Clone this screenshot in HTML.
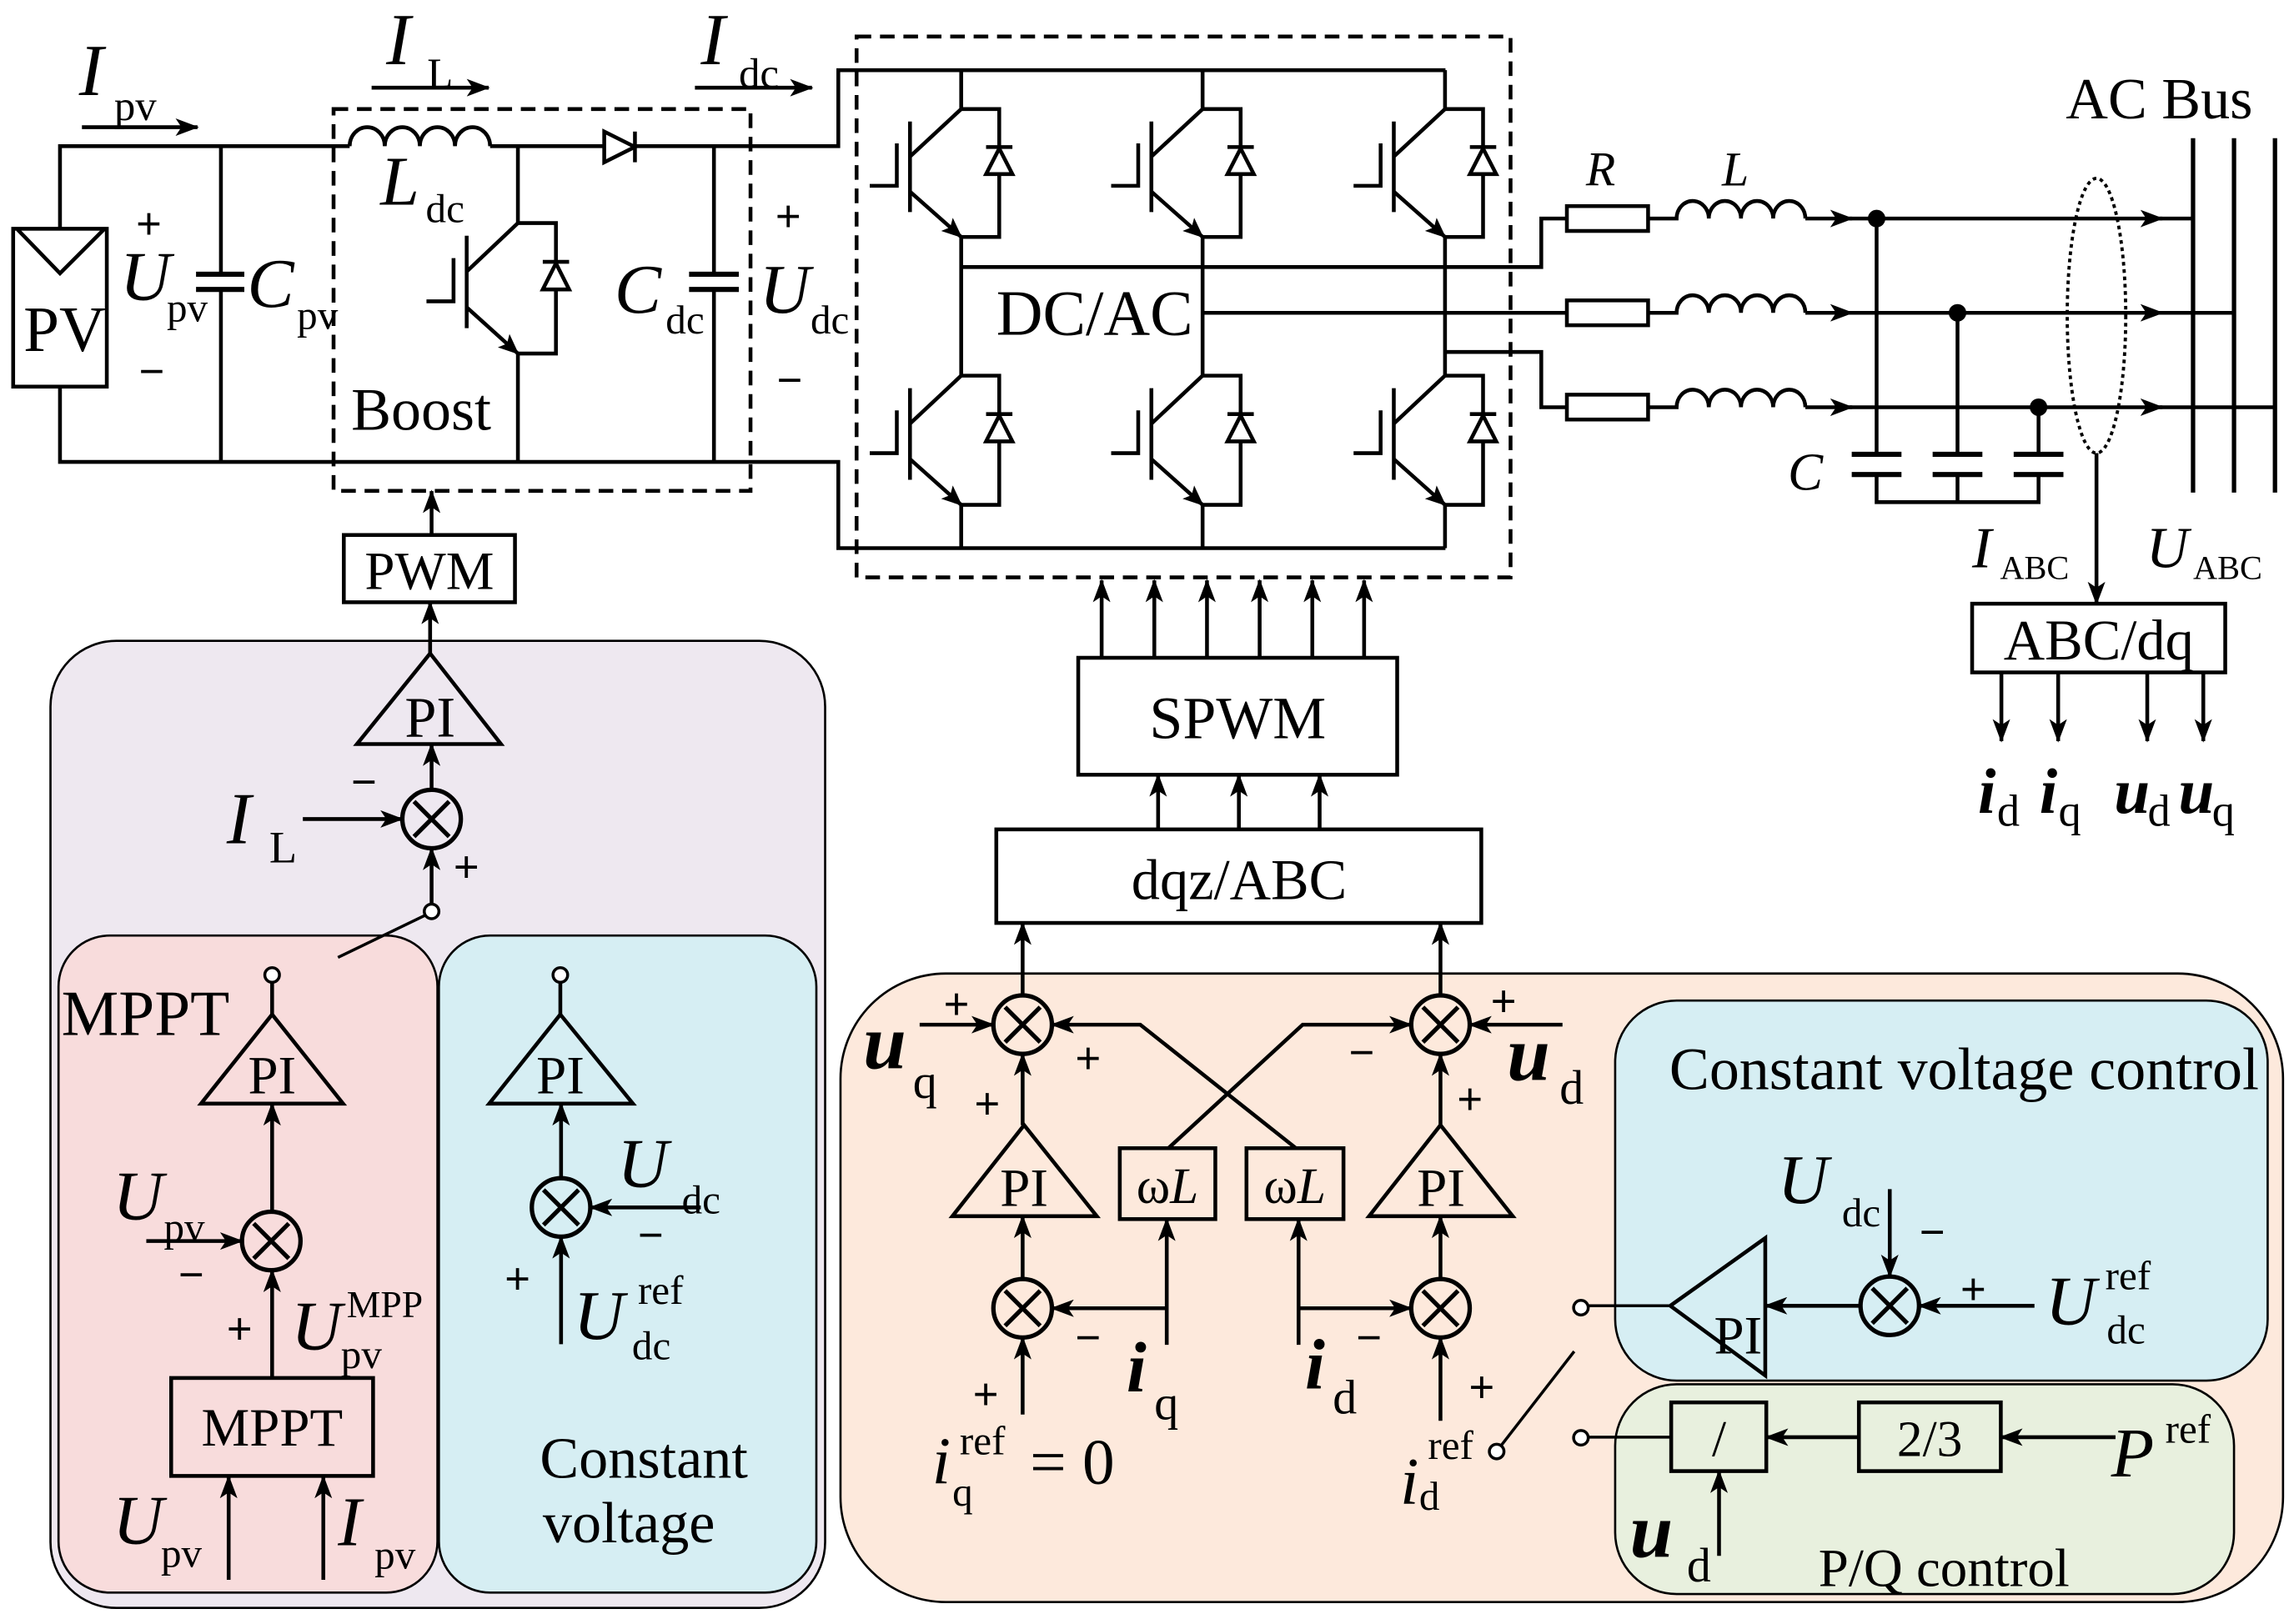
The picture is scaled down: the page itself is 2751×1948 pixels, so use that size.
<!DOCTYPE html>
<html><head><meta charset="utf-8"><style>
html,body{margin:0;padding:0;background:#fff;}
svg{display:block;}
text{font-family:"Liberation Serif",serif;fill:#000;}
.i{font-style:italic;}
.bi{font-style:italic;font-weight:bold;}
.s{font-family:"Liberation Sans",sans-serif;font-size:30px;}
</style></head><body>
<svg width="2751" height="1948" viewBox="0 0 1568 1111" preserveAspectRatio="none" xmlns="http://www.w3.org/2000/svg">
<defs>
<marker id="a" markerUnits="userSpaceOnUse" markerWidth="16" markerHeight="12" refX="15" refY="6" orient="auto"><path d="M0,0 L16,6 L0,12 L4,6z" fill="#000"/></marker>
<marker id="e" markerUnits="userSpaceOnUse" markerWidth="14" markerHeight="12" refX="13" refY="6" orient="auto"><path d="M0,0 L14,6 L0,12 L3,6z" fill="#000"/></marker>
<g id="igbt" fill="none" stroke="#000" stroke-width="2.6">
<line x1="-35" y1="8.5" x2="-35" y2="70.5"/>
<line x1="0" y1="0" x2="-35" y2="32.5"/>
<line x1="-35" y1="56.5" x2="0" y2="87.5" marker-end="url(#e)"/>
<polyline points="-62.5,52.5 -44,52.5 -44,23.5"/>
<polyline points="0,0 26,0 26,87.5 0,87.5"/>
<line x1="17" y1="26" x2="35" y2="26"/>
<polygon points="17,44.5 35,44.5 26,27" fill="#fff"/>
</g>
<g id="sum" fill="none" stroke="#000" stroke-width="3">
<circle r="20" cx="0" cy="0"/>
<line x1="-12" y1="-12" x2="12" y2="12"/><line x1="-12" y1="12" x2="12" y2="-12"/>
</g>
</defs>

<rect x="34.5" y="438.4" width="529.5" height="661.6" rx="45" fill="#eee8f0" stroke="#000" stroke-width="1.5"/>
<rect x="40" y="640" width="259" height="449.5" rx="35" fill="#f8dcdc" stroke="#000" stroke-width="1.5"/>
<rect x="300" y="640" width="258" height="449.5" rx="35" fill="#d6eef3" stroke="#000" stroke-width="1.5"/>
<rect x="574.5" y="666" width="986" height="430" rx="72" fill="#fde9dc" stroke="#000" stroke-width="1.5"/>
<rect x="1104" y="684.5" width="446" height="260" rx="42" fill="#d6eef3" stroke="#000" stroke-width="1.5"/>
<rect x="1104" y="947" width="423" height="143.5" rx="42" fill="#e8f0de" stroke="#000" stroke-width="1.5"/>

<g fill="none" stroke="#000" stroke-width="2.6">
<rect x="9" y="156.5" width="64" height="108"/>
<polyline points="12,157 41,187 71,157"/>
<polyline points="41,156.5 41,100 239,100"/>
<path d="M239,100 a12,13 0 0 1 24,0 a12,13 0 0 1 24,0 a12,13 0 0 1 24,0 a12,13 0 0 1 24,0"/>
<polyline points="335,100 573,100 573,48 988,48"/>
<polygon points="413,90 413,111 434,100.5" fill="#fff"/>
<line x1="434" y1="90" x2="434" y2="111"/>
<polyline points="41,264 41,316 573,316 573,375 988,375"/>
<line x1="151" y1="100" x2="151" y2="187.6"/><line x1="151" y1="198" x2="151" y2="316"/>
<line x1="134" y1="187.6" x2="167" y2="187.6" stroke-width="3.5"/><line x1="134" y1="198" x2="167" y2="198" stroke-width="3.5"/>
<line x1="488" y1="100" x2="488" y2="187.6"/><line x1="488" y1="198" x2="488" y2="316"/>
<line x1="471" y1="187.6" x2="505" y2="187.6" stroke-width="3.5"/><line x1="471" y1="198" x2="505" y2="198" stroke-width="3.5"/>
<line x1="354" y1="100" x2="354" y2="152.6"/>
<line x1="354" y1="242" x2="354" y2="316"/>
<rect x="228" y="74.6" width="285" height="261.2" stroke-dasharray="10 6"/>
<rect x="585.5" y="25" width="447" height="370" stroke-dasharray="10 6"/>
<line x1="657" y1="48" x2="657" y2="74.6"/><line x1="822" y1="48" x2="822" y2="74.6"/><line x1="987.7" y1="48" x2="987.7" y2="74.6"/>
<line x1="657" y1="162" x2="657" y2="257"/><line x1="822" y1="162" x2="822" y2="257"/><line x1="987.7" y1="162" x2="987.7" y2="257"/>
<line x1="657" y1="345.5" x2="657" y2="375"/><line x1="822" y1="345.5" x2="822" y2="375"/><line x1="987.7" y1="345.5" x2="987.7" y2="375"/>
<polyline points="657,182.7 1053.5,182.7 1053.5,149.5 1071,149.5"/>
<polyline points="822,214 1071,214"/>
<polyline points="987.7,240.8 1053.5,240.8 1053.5,278.6 1071,278.6"/>
<rect x="1071" y="141" width="55.5" height="17"/>
<rect x="1071" y="205.5" width="55.5" height="17"/>
<rect x="1071" y="270" width="55.5" height="17"/>
<path d="M1126.5,149.5 H1146 a11,12 0 0 1 22,0 a11,12 0 0 1 22,0 a11,12 0 0 1 22,0 a11,12 0 0 1 22,0"/>
<path d="M1126.5,214 H1146 a11,12 0 0 1 22,0 a11,12 0 0 1 22,0 a11,12 0 0 1 22,0 a11,12 0 0 1 22,0"/>
<path d="M1126.5,278.6 H1146 a11,12 0 0 1 22,0 a11,12 0 0 1 22,0 a11,12 0 0 1 22,0 a11,12 0 0 1 22,0"/>
<line x1="1234" y1="149.5" x2="1266" y2="149.5" marker-end="url(#a)"/>
<line x1="1234" y1="214" x2="1266" y2="214" marker-end="url(#a)"/>
<line x1="1234" y1="278.6" x2="1266" y2="278.6" marker-end="url(#a)"/>
<line x1="1264" y1="149.5" x2="1478" y2="149.5" marker-end="url(#a)"/><line x1="1476" y1="149.5" x2="1499" y2="149.5"/>
<line x1="1264" y1="214" x2="1478" y2="214" marker-end="url(#a)"/><line x1="1476" y1="214" x2="1527" y2="214"/>
<line x1="1264" y1="278.6" x2="1478" y2="278.6" marker-end="url(#a)"/><line x1="1476" y1="278.6" x2="1555" y2="278.6"/>
<line x1="1499" y1="94.5" x2="1499" y2="337" stroke-width="3"/>
<line x1="1527" y1="94.5" x2="1527" y2="337" stroke-width="3"/>
<line x1="1555" y1="94.5" x2="1555" y2="337" stroke-width="3"/>
<line x1="1282.7" y1="149.5" x2="1282.7" y2="310.8"/><line x1="1338" y1="214" x2="1338" y2="310.8"/><line x1="1393.4" y1="278.6" x2="1393.4" y2="310.8"/>
<line x1="1265.7" y1="310.8" x2="1299.7" y2="310.8" stroke-width="3.5"/><line x1="1265.7" y1="324.6" x2="1299.7" y2="324.6" stroke-width="3.5"/>
<line x1="1321" y1="310.8" x2="1355" y2="310.8" stroke-width="3.5"/><line x1="1321" y1="324.6" x2="1355" y2="324.6" stroke-width="3.5"/>
<line x1="1376.4" y1="310.8" x2="1410.4" y2="310.8" stroke-width="3.5"/><line x1="1376.4" y1="324.6" x2="1410.4" y2="324.6" stroke-width="3.5"/>
<polyline points="1282.7,324.6 1282.7,343.5 1393.4,343.5 1393.4,324.6"/>
<line x1="1338" y1="324.6" x2="1338" y2="343.5"/>
<ellipse cx="1433" cy="216" rx="20" ry="94" stroke-width="2.2" stroke-dasharray="2.5 2.5"/>
<line x1="1433" y1="310" x2="1433" y2="413" marker-end="url(#a)"/>
<rect x="1348" y="413" width="173" height="47"/>
<line x1="1368" y1="460" x2="1368" y2="507" marker-end="url(#a)"/>
<line x1="1406.8" y1="460" x2="1406.8" y2="507" marker-end="url(#a)"/>
<line x1="1467.7" y1="460" x2="1467.7" y2="507" marker-end="url(#a)"/>
<line x1="1506" y1="460" x2="1506" y2="507" marker-end="url(#a)"/>
<line x1="56" y1="87" x2="135" y2="87" marker-end="url(#a)"/>
<line x1="254" y1="60" x2="334" y2="60" marker-end="url(#a)"/>
<line x1="475" y1="60" x2="555" y2="60" marker-end="url(#a)"/>
<rect x="235" y="366" width="117" height="46"/>
<line x1="295" y1="366" x2="295" y2="336" marker-end="url(#a)"/>
<line x1="294" y1="447" x2="294" y2="412" marker-end="url(#a)"/>
<rect x="737" y="450" width="218" height="80"/>
<line x1="753" y1="450" x2="753" y2="397" marker-end="url(#a)"/>
<line x1="789" y1="450" x2="789" y2="397" marker-end="url(#a)"/>
<line x1="825" y1="450" x2="825" y2="397" marker-end="url(#a)"/>
<line x1="861" y1="450" x2="861" y2="397" marker-end="url(#a)"/>
<line x1="897" y1="450" x2="897" y2="397" marker-end="url(#a)"/>
<line x1="932.4" y1="450" x2="932.4" y2="397" marker-end="url(#a)"/>
<rect x="681" y="567.4" width="331.5" height="64"/>
<line x1="791.6" y1="567.4" x2="791.6" y2="530" marker-end="url(#a)"/>
<line x1="846.8" y1="567.4" x2="846.8" y2="530" marker-end="url(#a)"/>
<line x1="902" y1="567.4" x2="902" y2="530" marker-end="url(#a)"/>

<polygon points="294,447 244,509 342.4,509"/>
<line x1="295" y1="540" x2="295" y2="509" marker-end="url(#a)"/>
<line x1="207" y1="560.3" x2="275" y2="560.3" marker-end="url(#a)"/>
<line x1="295" y1="619" x2="295" y2="580.3" marker-end="url(#a)"/>
<circle cx="295" cy="623.5" r="5" fill="#fff" stroke-width="2"/>
<line x1="291" y1="626" x2="231" y2="655" stroke-width="2"/>
<circle cx="186" cy="667" r="5" fill="#fff" stroke-width="2"/>
<line x1="186" y1="672" x2="186" y2="694"/>
<polygon points="186,694 137.4,755 234.5,755"/>
<line x1="186" y1="829" x2="186" y2="755" marker-end="url(#a)"/>
<line x1="100" y1="849" x2="165.4" y2="849" marker-end="url(#a)"/>
<line x1="186" y1="942.7" x2="186" y2="869" marker-end="url(#a)"/>
<rect x="117" y="942.7" width="138" height="67"/>
<line x1="156.3" y1="1080.8" x2="156.3" y2="1010" marker-end="url(#a)"/>
<line x1="221" y1="1080.8" x2="221" y2="1010" marker-end="url(#a)"/>
<circle cx="383" cy="667" r="5" fill="#fff" stroke-width="2"/>
<line x1="383" y1="672" x2="383" y2="694"/>
<polygon points="383,694 334.4,755 432.6,755"/>
<line x1="383.5" y1="806" x2="383.5" y2="755" marker-end="url(#a)"/>
<line x1="479" y1="826" x2="403.5" y2="826" marker-end="url(#a)"/>
<line x1="383.5" y1="919.6" x2="383.5" y2="846" marker-end="url(#a)"/>

<line x1="699" y1="681" x2="699" y2="631.4" marker-end="url(#a)"/>
<line x1="984.6" y1="681" x2="984.6" y2="631.4" marker-end="url(#a)"/>
<line x1="699" y1="769.7" x2="699" y2="721" marker-end="url(#a)"/>
<line x1="984.6" y1="769.7" x2="984.6" y2="721" marker-end="url(#a)"/>
<polygon points="700,769.7 651,832 749.7,832"/>
<polygon points="984.6,769.7 935.8,832 1034,832"/>
<line x1="699" y1="875" x2="699" y2="832" marker-end="url(#a)"/>
<line x1="984.6" y1="875" x2="984.6" y2="832" marker-end="url(#a)"/>
<line x1="699" y1="967.7" x2="699" y2="915" marker-end="url(#a)"/>
<line x1="984.6" y1="972" x2="984.6" y2="915" marker-end="url(#a)"/>
<rect x="765.4" y="785.5" width="65.3" height="48.5"/>
<rect x="852" y="785.5" width="66.3" height="48.5"/>
<line x1="797.5" y1="920" x2="797.5" y2="834" marker-end="url(#a)"/>
<line x1="797.5" y1="895" x2="719" y2="895" marker-end="url(#a)"/>
<line x1="887.6" y1="920" x2="887.6" y2="834" marker-end="url(#a)"/>
<line x1="887.6" y1="895" x2="964.6" y2="895" marker-end="url(#a)"/>
<polyline points="798.6,785.5 890.4,701 964.6,701" marker-end="url(#a)"/>
<polyline points="885.8,785.5 779.4,701 719,701" marker-end="url(#a)"/>
<line x1="628.6" y1="701" x2="679" y2="701" marker-end="url(#a)"/>
<line x1="1068" y1="701" x2="1004.6" y2="701" marker-end="url(#a)"/>
<circle cx="1023" cy="993" r="5" fill="#fff" stroke-width="2"/>
<line x1="1026" y1="989" x2="1076" y2="924.5" stroke-width="2"/>
<circle cx="1080.6" cy="894.6" r="5" fill="#fff" stroke-width="2"/>
<circle cx="1080.6" cy="983.6" r="5" fill="#fff" stroke-width="2"/>
<line x1="1085.6" y1="893.3" x2="1141.7" y2="893.3" stroke-width="2"/>
<polygon points="1141.7,893.3 1206.6,847 1206.6,941"/>
<line x1="1272" y1="893.3" x2="1206.6" y2="893.3" marker-end="url(#a)"/>
<line x1="1390.6" y1="893.3" x2="1311.7" y2="893.3" marker-end="url(#a)"/>
<line x1="1291.7" y1="813.5" x2="1291.7" y2="873.3" marker-end="url(#a)"/>
<line x1="1085.6" y1="983.2" x2="1142.3" y2="983.2" stroke-width="2"/>
<rect x="1142.3" y="959.4" width="65" height="47"/>
<rect x="1270.6" y="959.4" width="97" height="47"/>
<line x1="1270.6" y1="983.2" x2="1207.3" y2="983.2" marker-end="url(#a)"/>
<line x1="1446" y1="983.2" x2="1367.5" y2="983.2" marker-end="url(#a)"/>
<line x1="1175" y1="1064.4" x2="1175" y2="1006.4" marker-end="url(#a)"/>
</g>

<use href="#igbt" transform="translate(657,74.6)"/>
<use href="#igbt" transform="translate(822,74.6)"/>
<use href="#igbt" transform="translate(987.7,74.6)"/>
<use href="#igbt" transform="translate(657,257) scale(1,1.01)"/>
<use href="#igbt" transform="translate(822,257) scale(1,1.01)"/>
<use href="#igbt" transform="translate(987.7,257) scale(1,1.01)"/>
<use href="#igbt" transform="translate(354,152.6) scale(1,1.02)"/>

<circle cx="1282.7" cy="149.5" r="6"/>
<circle cx="1338" cy="214" r="6"/>
<circle cx="1393.4" cy="278.6" r="6"/>

<use href="#sum" transform="translate(295,560.3)"/>
<use href="#sum" transform="translate(185.4,849)"/>
<use href="#sum" transform="translate(383.5,826)"/>
<use href="#sum" transform="translate(699,701)"/>
<use href="#sum" transform="translate(984.6,701)"/>
<use href="#sum" transform="translate(699,895)"/>
<use href="#sum" transform="translate(984.6,895)"/>
<use href="#sum" transform="translate(1291.7,893.3)"/>

<text x="54" y="65" font-size="50" class="i">I</text><text x="78" y="82" font-size="29">pv</text>
<text x="264" y="44" font-size="50" class="i">I</text><text x="292" y="60" font-size="29">L</text>
<text x="479" y="44" font-size="50" class="i">I</text><text x="505" y="60" font-size="29">dc</text>
<text x="16" y="240" font-size="44">PV</text>
<text class="s" x="93" y="163">+</text>
<text x="82" y="205" font-size="48" class="i">U</text><text x="114" y="220" font-size="28">pv</text>
<text class="s" x="95" y="264">−</text>
<text x="169" y="210" font-size="48" class="i">C</text><text x="203" y="225" font-size="28">pv</text>
<text x="260" y="140" font-size="48" class="i">L</text><text x="291" y="152" font-size="28">dc</text>
<text x="240" y="294" font-size="41">Boost</text>
<text x="420" y="214" font-size="48" class="i">C</text><text x="455" y="228" font-size="28">dc</text>
<text class="s" x="530" y="158">+</text>
<text x="519" y="214" font-size="48" class="i">U</text><text x="554" y="228" font-size="28">dc</text>
<text class="s" x="531" y="270">−</text>
<text x="681" y="229" font-size="44">DC/AC</text>
<text x="1084" y="127" font-size="33" class="i">R</text>
<text x="1177" y="127" font-size="33" class="i">L</text>
<text x="1412" y="81" font-size="40">AC Bus</text>
<text x="1222" y="335" font-size="36" class="i">C</text>
<text x="1348" y="388" font-size="40" class="i">I</text><text x="1367" y="396" font-size="23">ABC</text>
<text x="1467" y="388" font-size="40" class="i">U</text><text x="1499" y="396" font-size="23">ABC</text>
<text x="1434.5" y="451" font-size="39" text-anchor="middle">ABC/dq</text>
<text x="1352" y="556" font-size="44" class="bi">i</text><text x="1365" y="565" font-size="31">d</text>
<text x="1394" y="556" font-size="44" class="bi">i</text><text x="1407" y="565" font-size="31">q</text>
<text x="1445" y="556" font-size="44" class="bi">u</text><text x="1468" y="565" font-size="31">d</text>
<text x="1489" y="556" font-size="44" class="bi">u</text><text x="1512" y="565" font-size="31">q</text>
<text x="293.5" y="403" font-size="37" text-anchor="middle">PWM</text>
<text x="846" y="505" font-size="41" text-anchor="middle">SPWM</text>
<text x="847" y="615" font-size="39" text-anchor="middle">dqz/ABC</text>

<text x="294" y="504" font-size="39" text-anchor="middle">PI</text>
<text x="155" y="577" font-size="50" class="i">I</text><text x="184" y="590" font-size="31">L</text>
<text class="s" x="240" y="545">−</text>
<text class="s" x="310" y="603">+</text>
<text x="42" y="708" font-size="44">MPPT</text>
<text x="186" y="748" font-size="37" text-anchor="middle">PI</text>
<text x="77" y="834" font-size="48" class="i">U</text><text x="112" y="849" font-size="28">pv</text>
<text class="s" x="122" y="882">−</text>
<text class="s" x="155" y="919">+</text>
<text x="199" y="923" font-size="48" class="i">U</text><text x="237" y="901" font-size="26">MPP</text><text x="233" y="936" font-size="28">pv</text>
<text x="186" y="989" font-size="37" text-anchor="middle">MPPT</text>
<text x="77" y="1056" font-size="48" class="i">U</text><text x="110" y="1072" font-size="28">pv</text>
<text x="231" y="1057" font-size="48" class="i">I</text><text x="256" y="1073" font-size="28">pv</text>
<text x="383" y="748" font-size="37" text-anchor="middle">PI</text>
<text x="422" y="812" font-size="48" class="i">U</text><text x="466" y="830" font-size="28">dc</text>
<text class="s" x="436" y="855">−</text>
<text class="s" x="345" y="885">+</text>
<text x="392" y="916" font-size="48" class="i">U</text><text x="436" y="892" font-size="28">ref</text><text x="432" y="930" font-size="28">dc</text>
<text x="369" y="1011" font-size="40">Constant</text>
<text x="371" y="1055" font-size="40">voltage</text>

<text class="s" x="645" y="697">+</text>
<text x="590" y="731" font-size="53" class="bi">u</text><text x="624" y="751" font-size="33">q</text>
<text class="s" x="735" y="734">+</text>
<text class="s" x="666" y="765">+</text>
<text x="700" y="825" font-size="37" text-anchor="middle">PI</text>
<text x="985" y="825" font-size="37" text-anchor="middle">PI</text>
<text x="798" y="823" font-size="35" text-anchor="middle">ω<tspan class="i">L</tspan></text>
<text x="885" y="823" font-size="35" text-anchor="middle">ω<tspan class="i">L</tspan></text>
<text class="s" x="922" y="730">−</text>
<text class="s" x="1019" y="695">+</text>
<text x="1030" y="739" font-size="53" class="bi">u</text><text x="1066" y="755" font-size="33">d</text>
<text class="s" x="996" y="762">+</text>
<text class="s" x="735" y="925">−</text>
<text class="s" x="927" y="925">−</text>
<text class="s" x="665" y="964">+</text>
<text class="s" x="1004" y="959">+</text>
<text x="770" y="952" font-size="49" class="bi">i</text><text x="789" y="971" font-size="33">q</text>
<text x="892" y="950" font-size="49" class="bi">i</text><text x="911" y="967" font-size="33">d</text>
<text x="637" y="1015" font-size="46" class="i">i</text><text x="656" y="995" font-size="28">ref</text><text x="651" y="1030" font-size="28">q</text>
<text x="704" y="1015" font-size="44">= 0</text>
<text x="957" y="1029" font-size="46" class="i">i</text><text x="976" y="998" font-size="28">ref</text><text x="970" y="1033" font-size="28">d</text>

<text x="1141" y="745" font-size="41">Constant voltage control</text>
<text x="1215" y="823" font-size="48" class="i">U</text><text x="1259" y="839" font-size="28">dc</text>
<text class="s" x="1312" y="853">−</text>
<text class="s" x="1340" y="892">+</text>
<text x="1398" y="906" font-size="48" class="i">U</text><text x="1439" y="882" font-size="28">ref</text><text x="1440" y="919" font-size="28">dc</text>
<text x="1188" y="926" font-size="37" text-anchor="middle">PI</text>
<text x="1175" y="996" font-size="35" text-anchor="middle">/</text>
<text x="1319" y="996" font-size="35" text-anchor="middle">2/3</text>
<text x="1443" y="1010" font-size="48" class="i">P</text><text x="1480" y="987" font-size="28">ref</text>
<text x="1114" y="1065" font-size="53" class="bi">u</text><text x="1153" y="1082" font-size="33">d</text>
<text x="1243" y="1085" font-size="37">P/Q control</text>
</svg>
</body></html>
